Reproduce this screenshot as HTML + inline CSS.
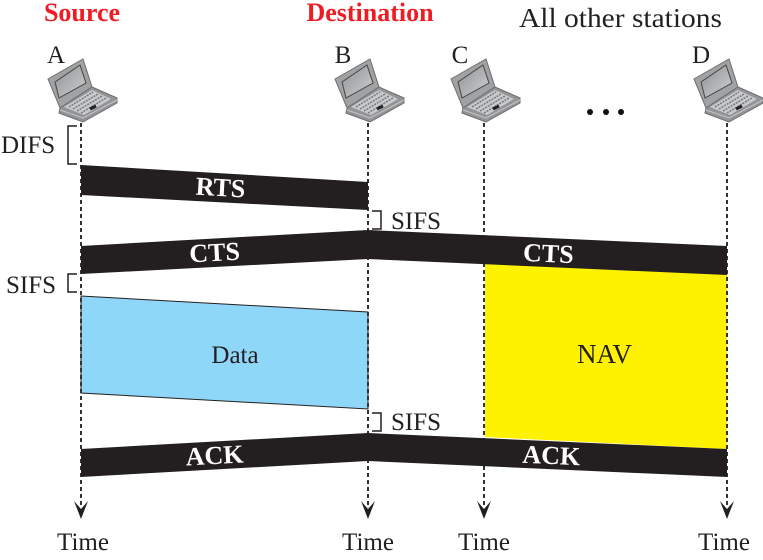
<!DOCTYPE html>
<html><head><meta charset="utf-8"><style>html,body{margin:0;padding:0;background:#fff}svg{display:block}text{font-family:"Liberation Serif",serif;fill:#231f20}.b{font-weight:bold;fill:#fff;font-size:26px;text-anchor:middle}.r{font-weight:bold;fill:#ee1c25;font-size:26px;text-anchor:middle}.t{font-size:25px}.m{text-anchor:middle}</style></head><body>
<svg width="763" height="560" viewBox="0 0 763 560" xmlns="http://www.w3.org/2000/svg">
<defs>
<linearGradient id="sc" x1="0" y1="0" x2="1" y2="1"><stop offset="0" stop-color="#8f9193"/><stop offset="1" stop-color="#cfd0d2"/></linearGradient>
<g id="lap">
<path d="M-33-43L2-63L11-35L-21-14Z" fill="#a0a2a4" stroke="#6d6e70" stroke-width="1"/>
<path d="M-26-40L-1-57L5-39L-22-24Z" fill="url(#sc)" stroke="#444" stroke-width="1"/>
<path d="M-21-14L11-35L36-24L36-19L2 0L-22-9Z" fill="#939496" stroke="#6d6e70" stroke-width="1"/>
<path d="M-17-15L11-32L30-23L3-7Z" fill="#c8c9cb"/>
<path d="M-12-15L12-30M-8-13L17-28M-4-11L21-26M0-9L25-24" stroke="#77787a" stroke-width="1.500" stroke-dasharray="2 1" fill="none"/>
<path d="M9-13L15-16" stroke="#222" stroke-width="3"/>
<path d="M-21-12L2-4L36-22" stroke="#c4c5c7" stroke-width="1" fill="none"/>
</g>
<g id="head"><path d="M-7-18L0-10L7-18L0 0Z" fill="#231f20"/></g>
</defs>
<rect width="763" height="560" fill="#fff"/>
<path d="M81 296L368 312V409L81 393Z" fill="#8fd7f8" stroke="#231f20"/>
<path d="M485 263L727 274V449L485 437Z" fill="#fff200"/>
<g stroke="#333" stroke-width="2" stroke-dasharray="4 3" fill="none">
<path d="M81 123V505M368 123V505M484 123V505M727 123V505"/>
</g>
<use href="#head" x="81" y="519"/><use href="#head" x="368" y="519"/><use href="#head" x="484" y="519"/><use href="#head" x="727" y="519"/>
<path d="M81 165L368 182V210L81 195Z" fill="#231f20"/>
<path d="M81 246L368 230L727 246V275L368 259L81 274Z" fill="#231f20"/>
<path d="M81 449L368 433L727 449V477L368 461L81 477Z" fill="#231f20"/>
<use href="#lap" x="81" y="122"/><use href="#lap" x="368" y="122"/><use href="#lap" x="484" y="122"/><use href="#lap" x="727" y="122"/>
<g fill="none" stroke="#231f20" stroke-width="1.500">
<path d="M77 126H68V164H77"/><path d="M77 274H68V292H77"/><path d="M372 211H381V229H372"/><path d="M372 413H381V431H372"/>
</g>
<text class="r" x="82" y="21">Source</text>
<text class="r" x="370" y="21">Destination</text>
<text x="519" y="27" font-size="27" textLength="203" lengthAdjust="spacingAndGlyphs">All other stations</text>
<text class="t m" x="56" y="63">A</text><text class="t m" x="343" y="63">B</text><text class="t m" x="460" y="63">C</text><text class="t m" x="701" y="63">D</text>
<text x="1" y="153" class="t">DIFS</text><text x="6" y="293" class="t">SIFS</text>
<text x="391" y="229" class="t">SIFS</text><text x="391" y="430" class="t">SIFS</text>
<text class="t m" x="235" y="363">Data</text><text x="577" y="363" font-size="27" textLength="55" lengthAdjust="spacingAndGlyphs">NAV</text>
<text class="t m" x="83" y="550">Time</text><text class="t m" x="368" y="550">Time</text><text class="t m" x="484" y="550">Time</text><text class="t m" x="724" y="550">Time</text>
<text class="b" transform="translate(220 196) rotate(3.200)">RTS</text>
<text class="b" transform="translate(215 261) rotate(-3)">CTS</text>
<text class="b" transform="translate(548 262) rotate(2.500)">CTS</text>
<text class="b" transform="translate(215 464) rotate(-3)">ACK</text>
<text class="b" transform="translate(551 464) rotate(2.500)">ACK</text>
<circle cx="590" cy="112" r="3" fill="#111"/><circle cx="606" cy="112" r="3" fill="#111"/><circle cx="621" cy="112" r="3" fill="#111"/>
</svg>
</body></html>
